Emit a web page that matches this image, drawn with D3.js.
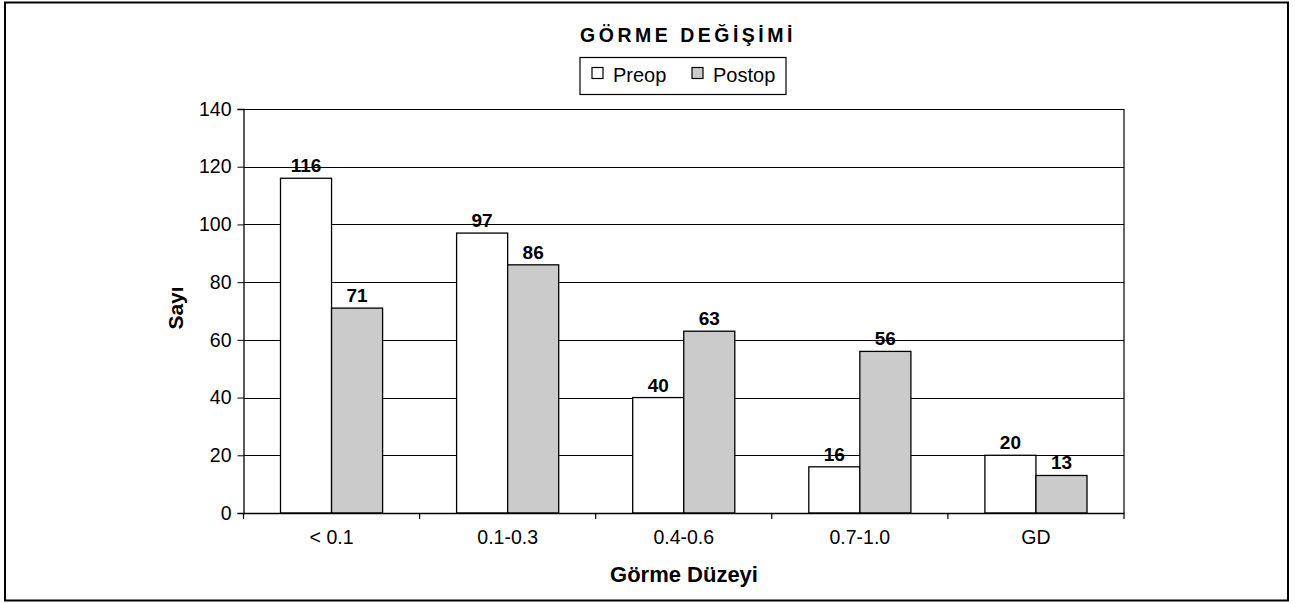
<!DOCTYPE html>
<html><head><meta charset="utf-8">
<script src="https://cdn.jsdelivr.net/npm/d3@7"></script>
<style>
body{margin:0;background:#fff;}
svg{display:block;font-family:"Liberation Sans",Arial,sans-serif;}
</style></head>
<body>
<svg id="chart" width="1303" height="603"></svg>
<script>
const categories = ["< 0.1", "0.1-0.3", "0.4-0.6", "0.7-1.0", "GD"];
const seriesNames = ["Preop", "Postop"];
const preop = [116, 97, 40, 16, 20];
const postop = [71, 86, 63, 56, 13];
const yTicks = [0, 20, 40, 60, 80, 100, 120, 140];
const title = "GÖRME DEĞİŞİMİ";
const xTitle = "Görme Düzeyi";
const yTitle = "Sayı";
const colors = {Preop: "#ffffff", Postop: "#cbcbcb"};

const svg = d3.select("#chart");
const L = 243.5, R = 1124, T = 109, B = 513;

// outer frame
svg.append("rect").attr("x", 5).attr("y", 2.5).attr("width", 1283).attr("height", 598)
  .attr("fill", "#fff").attr("stroke", "#000").attr("stroke-width", 2);

const x0 = d3.scaleBand().domain(categories).range([L, R]).padding(0);
const gap = 37;
const x1 = d3.scaleBand().domain(seriesNames).range([gap, x0.bandwidth() - gap]).padding(0);
const y = d3.scaleLinear().domain([0, 140]).range([B, T]);

// gridlines
svg.append("g").selectAll("line").data(yTicks.filter(d => d > 0)).join("line")
  .attr("x1", L).attr("x2", R).attr("y1", d => Math.round(y(d)) + 0.5).attr("y2", d => Math.round(y(d)) + 0.5)
  .attr("stroke", "#000").attr("stroke-width", 1.2);
// right border of plot
svg.append("line").attr("x1", R).attr("x2", R).attr("y1", T).attr("y2", B)
  .attr("stroke", "#000").attr("stroke-width", 1.2);

const data = categories.map((c, i) => ({cat: c, vals: [{s: "Preop", v: preop[i]}, {s: "Postop", v: postop[i]}]}));

const groups = svg.append("g").selectAll("g").data(data).join("g")
  .attr("transform", d => `translate(${x0(d.cat)},0)`);
groups.selectAll("rect").data(d => d.vals).join("rect")
  .attr("x", d => x1(d.s)).attr("y", d => y(d.v))
  .attr("width", x1.bandwidth()).attr("height", d => B - y(d.v))
  .attr("fill", d => colors[d.s]).attr("stroke", "#000").attr("stroke-width", 1.3);
groups.selectAll("text").data(d => d.vals).join("text")
  .attr("x", d => x1(d.s) + x1.bandwidth() / 2).attr("y", d => y(d.v) - 6)
  .attr("text-anchor", "middle").attr("font-weight", "bold").attr("font-size", 19)
  .text(d => d.v);

// y axis
const yAxis = svg.append("g").attr("transform", `translate(${L},0)`)
  .call(d3.axisLeft(y).tickValues(yTicks).tickSize(6).tickPadding(6));
yAxis.select(".domain").attr("stroke-width", 1.3);
yAxis.selectAll("text").attr("font-size", 19.5).attr("font-family", "Liberation Sans, Arial, sans-serif").attr("fill", "#000");

// x axis
const xAxis = svg.append("g").attr("transform", `translate(0,${B})`)
  .call(d3.axisBottom(x0).tickSize(0).tickPadding(17));
xAxis.select(".domain").attr("stroke-width", 1.3);
xAxis.selectAll("text").attr("font-size", 19.5).attr("font-family", "Liberation Sans, Arial, sans-serif").attr("fill", "#000");
const bounds = categories.map(c => x0(c)).concat([R]);
xAxis.selectAll("line.bt").data(bounds).join("line").attr("class", "bt")
  .attr("x1", d => d).attr("x2", d => d).attr("y1", 0).attr("y2", 6)
  .attr("stroke", "#000").attr("stroke-width", 1.2);

// titles
svg.append("text").attr("x", 688).attr("y", 42).attr("text-anchor", "middle")
  .attr("font-weight", "bold").attr("font-size", 19.5).attr("letter-spacing", "3.5px").text(title);
svg.append("text").attr("x", 684).attr("y", 582).attr("text-anchor", "middle")
  .attr("font-weight", "bold").attr("font-size", 22).text(xTitle);
svg.append("text").attr("transform", "translate(183,308) rotate(-90)").attr("text-anchor", "middle")
  .attr("font-weight", "bold").attr("font-size", 21).text(yTitle);

// legend
const lg = svg.append("g");
lg.append("rect").attr("x", 580).attr("y", 57.5).attr("width", 206).attr("height", 37)
  .attr("fill", "#fff").attr("stroke", "#000").attr("stroke-width", 1.2);
const legX = [592, 692];
seriesNames.forEach((s, i) => {
  lg.append("rect").attr("x", legX[i]).attr("y", 67.5).attr("width", 11).attr("height", 11)
    .attr("fill", colors[s]).attr("stroke", "#000").attr("stroke-width", 1.2);
  lg.append("text").attr("x", legX[i] + 21).attr("y", 82).attr("font-size", 20).text(s);
});
</script>
</body></html>
